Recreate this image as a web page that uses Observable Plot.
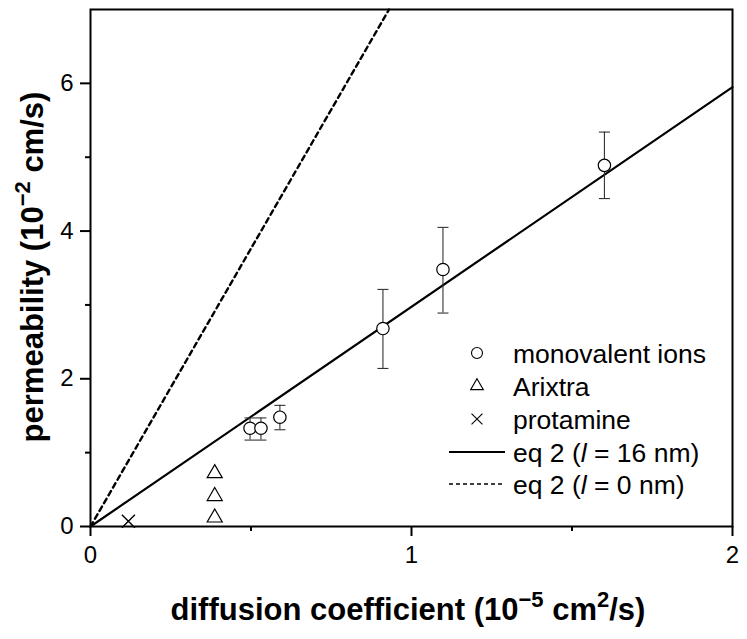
<!DOCTYPE html>
<html>
<head>
<meta charset="utf-8">
<script src="https://cdn.jsdelivr.net/npm/d3@7"></script>
<script src="https://cdn.jsdelivr.net/npm/@observablehq/plot@0.6"></script>
<style>
  html, body { margin: 0; padding: 0; background: #fff; }
  #chart svg { display: block; }
</style>
</head>
<body>
<div id="chart"></div>
<script>
// ---- data ----
const monoX = [0.497, 0.531, 0.590, 0.911, 1.098, 1.601];
const monoY = [1.33, 1.33, 1.48, 2.68, 3.48, 4.89];
const monoLow = [1.17, 1.17, 1.31, 2.14, 2.89, 4.44];
const monoHigh = [1.47, 1.47, 1.64, 3.21, 4.05, 5.34];

const arixtraX = [0.387, 0.387, 0.387];
const arixtraY = [0.72, 0.41, 0.12];

const protamineX = [0.118];
const protamineY = [0.07];

const fit16X = [0, 2];
const fit16Y = [0, 5.95];
const fit0X = [0, 0.93];
const fit0Y = [0, 7];

const xMajorTicks = [0, 1, 2];
const xMinorTicks = [0.5, 1.5];
const yMajorTicks = [0, 2, 4, 6];
const yMinorTicks = [1, 3, 5];

const legendLabels = ["monovalent ions", "Arixtra", "protamine", "eq 2 (", "eq 2 ("];
const legendLengths = [null, null, null, "16", "0"];

// ---- build tables ----
const mono = monoX.map((x, i) => ({x, y: monoY[i], lo: monoLow[i], hi: monoHigh[i]}));
const arixtra = arixtraX.map((x, i) => ({x, y: arixtraY[i]}));
const protamine = protamineX.map((x, i) => ({x, y: protamineY[i]}));
const fit16 = fit16X.map((x, i) => ({x, y: fit16Y[i]}));
const fit0 = fit0X.map((x, i) => ({x, y: fit0Y[i]}));

const capSymbol = {
  draw(ctx, size) {
    const r = Math.sqrt(size / Math.PI);
    ctx.moveTo(-r, 0);
    ctx.lineTo(r, 0);
  }
};

const FONT = "'Liberation Sans', Arial, Helvetica, sans-serif";

const chart = Plot.plot({
  width: 747,
  height: 639,
  marginLeft: 90,
  marginRight: 15,
  marginTop: 9,
  marginBottom: 113,
  style: {fontFamily: FONT, fontSize: "24px", color: "black", background: "white"},
  x: {domain: [0, 2], axis: null},
  y: {domain: [0, 7], axis: null},
  marks: [
    Plot.axisX(xMajorTicks, {tickSize: 10, tickPadding: 9, strokeWidth: 2, tickFormat: d => String(d), label: null, fontSize: 24}),
    Plot.axisX(xMinorTicks, {tickSize: 5, strokeWidth: 2, tickFormat: () => "", label: null}),
    Plot.axisY(yMajorTicks, {tickSize: 10, tickPadding: 7, strokeWidth: 2, tickFormat: d => String(d), label: null, fontSize: 24}),
    Plot.axisY(yMinorTicks, {tickSize: 5, strokeWidth: 2, tickFormat: () => "", label: null}),
    Plot.line(fit0, {x: "x", y: "y", stroke: "black", strokeWidth: 2.4, strokeDasharray: "5,4"}),
    Plot.line(fit16, {x: "x", y: "y", stroke: "black", strokeWidth: 2.2}),
    Plot.ruleX(mono, {x: "x", y1: "lo", y2: "hi", stroke: "#333", strokeWidth: 1.1}),
    Plot.dot(mono, {x: "x", y: "lo", symbol: capSymbol, r: 5.5, stroke: "#333", strokeWidth: 1.1}),
    Plot.dot(mono, {x: "x", y: "hi", symbol: capSymbol, r: 5.5, stroke: "#333", strokeWidth: 1.1}),
    Plot.dot(mono, {x: "x", y: "y", r: 6.2, stroke: "black", fill: "white", strokeWidth: 1.2}),
    Plot.dot(arixtra, {x: "x", y: "y", symbol: "triangle", r: 5.6, stroke: "black", fill: "none", strokeWidth: 1.2}),
    Plot.dot(protamine, {x: "x", y: "y", symbol: "times", r: 6, stroke: "black", strokeWidth: 1.4}),
    Plot.frame({stroke: "black", strokeWidth: 2})
  ]
});

document.getElementById("chart").appendChild(chart);

// ---- titles and legend (layout added on the Plot SVG) ----
const svg = d3.select(chart);

const xt = svg.append("text")
  .attr("x", 408).attr("y", 620)
  .attr("text-anchor", "middle")
  .attr("font-family", FONT).attr("font-size", 31).attr("font-weight", "bold")
  .attr("fill", "black");
xt.append("tspan").text("diffusion coefficient (10");
xt.append("tspan").attr("dy", -13).attr("font-size", 22).text("\u22125");
xt.append("tspan").attr("dy", 13).text(" cm");
xt.append("tspan").attr("dy", -13).attr("font-size", 22).text("2");
xt.append("tspan").attr("dy", 13).text("/s)");

const yt = svg.append("text")
  .attr("transform", "translate(43,267) rotate(-90)")
  .attr("text-anchor", "middle")
  .attr("font-family", FONT).attr("font-size", 31).attr("font-weight", "bold")
  .attr("fill", "black");
yt.append("tspan").text("permeability (10");
yt.append("tspan").attr("dy", -13).attr("font-size", 22).text("\u22122");
yt.append("tspan").attr("dy", 13).text(" cm/s)");

// legend
const lg = svg.append("g").attr("font-family", FONT).attr("font-size", 26.5)
  .attr("fill", "black").attr("text-anchor", "start");
const rowsY = [353, 386, 419, 452, 484];
const markX = 477, textX = 513;
lg.append("circle").attr("cx", markX).attr("cy", rowsY[0]).attr("r", 5.5)
  .attr("fill", "white").attr("stroke", "black").attr("stroke-width", 1.1);
lg.append("path").attr("d", d3.symbol(d3.symbolTriangle, 70)())
  .attr("transform", `translate(${markX},${rowsY[1]})`)
  .attr("fill", "none").attr("stroke", "black").attr("stroke-width", 1.1);
lg.append("path").attr("d", d3.symbol(d3.symbolTimes, 80)())
  .attr("transform", `translate(${markX},${rowsY[2]})`)
  .attr("fill", "none").attr("stroke", "black").attr("stroke-width", 1.1);
lg.append("line").attr("x1", 449).attr("x2", 505).attr("y1", rowsY[3]).attr("y2", rowsY[3])
  .attr("stroke", "black").attr("stroke-width", 2);
lg.append("line").attr("x1", 449).attr("x2", 505).attr("y1", rowsY[4]).attr("y2", rowsY[4])
  .attr("stroke", "black").attr("stroke-width", 1.6).attr("stroke-dasharray", "4,3");

legendLabels.forEach((lab, i) => {
  const t = lg.append("text").attr("x", textX).attr("y", rowsY[i]).attr("dy", "0.36em");
  t.append("tspan").text(lab);
  if (legendLengths[i] !== null) {
    t.append("tspan").attr("font-style", "italic").text("l");
    t.append("tspan").text(" = " + legendLengths[i] + " nm)");
  }
});
</script>
</body>
</html>
